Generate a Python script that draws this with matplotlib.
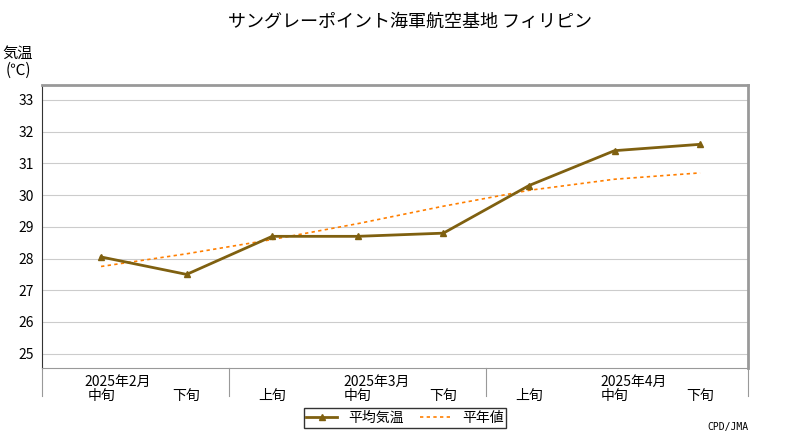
import matplotlib
matplotlib.use("Agg")
import matplotlib.pyplot as plt

plt.rcParams["font.family"] = "Noto Sans CJK JP"

periods = ["中旬", "下旬", "上旬", "中旬", "下旬", "上旬", "中旬", "下旬"]
months = ["2025年2月", "2025年3月", "2025年4月"]
month_centers = [0.2, 3.22, 6.22]
avg_temp = [28.05, 27.5, 28.7, 28.7, 28.8, 30.3, 31.4, 31.6]
normal = [27.75, 28.15, 28.6, 29.1, 29.65, 30.15, 30.5, 30.7]
yticks = [25, 26, 27, 28, 29, 30, 31, 32, 33]

fig = plt.figure(figsize=(8, 4.4), dpi=100)
ax = fig.add_axes([42/800, 1-368/440, (748-42)/800, (368-85)/440])
x = list(range(len(avg_temp)))
ax.set_xlim(-0.69, 7.56)
ax.set_ylim(24.55, 33.47)
ax.set_yticks(yticks)
ax.grid(axis="y", color="#cccccc", lw=0.8)
ax.set_axisbelow(True)
ax.plot(x, normal, color="#ff7f00", ls=(0, (2, 2)), lw=1.2, label="平年値")
ax.plot(x, avg_temp, color="#7f6010", lw=2, marker="^", ms=5, label="平均気温")
for s in ["top", "right"]:
    ax.spines[s].set_color("#999999"); ax.spines[s].set_linewidth(2)
ax.spines["left"].set_color("#333333")
ax.spines["bottom"].set_color("#999999")
ax.set_xticks([])
ax.tick_params(axis="y", labelsize=10, length=0, pad=6)
for i, p in enumerate(periods):
    ax.text(i, -0.1, p, transform=ax.get_xaxis_transform(), ha="center", va="center", fontsize=10)
for c, m in zip(month_centers, months):
    ax.text(c, -0.05, m, transform=ax.get_xaxis_transform(), ha="center", va="center", fontsize=10)
for b in [-0.69, 1.5, 4.5, 7.56]:
    ax.plot([b, b], [0, -0.1], transform=ax.get_xaxis_transform(), color="#999999", lw=0.8, clip_on=False)
fig.text(410/800, 1-22/440, "サングレーポイント海軍航空基地 フィリピン", ha="center", va="center", fontsize=13)
fig.text(18/800, 1-62/440, "気温\n(℃)", ha="center", va="center", fontsize=11, linespacing=1.0)
fig.text(748/800, 1-427/440, "CPD/JMA", ha="right", va="center", fontsize=7, family="DejaVu Sans Mono")
h, l = ax.get_legend_handles_labels()
fig.legend(h[::-1], l[::-1], loc="center", bbox_to_anchor=(405/800, 1-418/440), ncol=2,
           frameon=True, fancybox=False, edgecolor="black", fontsize=10, handlelength=2.2,
           borderpad=0.2, columnspacing=1.2)
fig.savefig("out.png")
